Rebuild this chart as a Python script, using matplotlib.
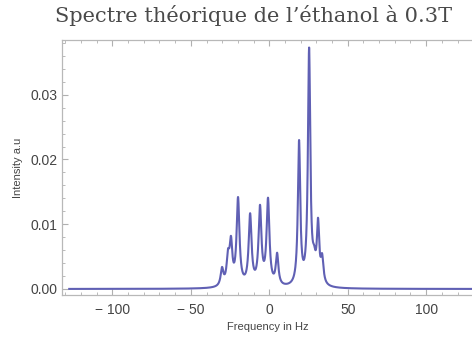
"""Theoretical 1H NMR spectrum of ethanol at 0.3 T"""

import numpy as np
import matplotlib.pyplot as plt
from matplotlib.ticker import MultipleLocator, FuncFormatter

# line positions (Hz) and peak intensities (a.u.) of the resolved multiplet lines
line_centers = [-30.1, -26.3, -24.4, -19.9, -12.2, -5.9, -0.8, 5.0,
                19.0, 25.4, 28.6, 31.1, 33.7]
line_heights = [0.0034, 0.0062, 0.0082, 0.0142, 0.0117, 0.0130, 0.0141, 0.0056,
                0.0230, 0.0373, 0.0068, 0.0110, 0.0055]
line_hwhm = [1.05, 1.05, 1.05, 1.1, 1.1, 1.1, 1.1, 1.0,
             0.9, 0.9, 1.2, 0.9, 1.0]

freq_min, freq_max = -127.5, 131.0
x_ticks = [-100, -50, 0, 50, 100]
y_ticks = [0.00, 0.01, 0.02, 0.03]

title = "Spectre théorique de l’éthanol à 0.3T"
x_label = "Frequency in Hz"
y_label = "Intensity a.u"


def lorentz(x, c, g):
    return 1.0 / (1.0 + ((x - c) / g) ** 2)


def line_amplitudes(centers, heights, widths):
    """Amplitudes so that the summed spectrum hits the given heights at the centers."""
    c = np.array(centers)
    m = np.array([[lorentz(ci, cj, gj) for cj, gj in zip(centers, widths)] for ci in c])
    return np.linalg.solve(m, np.array(heights))


def spectrum(x, centers, heights, widths):
    amps = line_amplitudes(centers, heights, widths)
    y = np.zeros_like(x)
    for a, c, g in zip(amps, centers, widths):
        y += a * lorentz(x, c, g)
    return y


def fmt_x(v, pos):
    if v < 0:
        return "\u2212 %d" % abs(v)
    return "%d" % v


def plot_spectrum():
    freq = np.linspace(freq_min, freq_max, 6000)
    inten = spectrum(freq, line_centers, line_heights, line_hwhm)

    plt.rcParams['font.family'] = ['Liberation Sans', 'DejaVu Sans']
    fig = plt.figure(figsize=(4.72, 3.41), dpi=100)
    ax = fig.add_axes([61.7 / 472, 46 / 341, 411.5 / 472, 254.7 / 341])

    ax.plot(freq, inten, color='#6060b4', lw=1.5)

    ax.set_xlim(-132.3, 130.0)
    ax.set_ylim(-0.00093, 0.0384)

    ax.set_xticks(x_ticks)
    ax.xaxis.set_major_formatter(FuncFormatter(fmt_x))
    ax.xaxis.set_minor_locator(MultipleLocator(10))
    ax.set_yticks(y_ticks)
    ax.set_yticklabels(["%.2f" % v for v in y_ticks])
    ax.yaxis.set_minor_locator(MultipleLocator(0.002))

    ax.tick_params(which='both', direction='in', top=True, right=False,
                   color='#b0b0b0', labelcolor='#444444', labelsize=10)
    ax.tick_params(which='major', length=4, width=0.8)
    ax.tick_params(which='minor', length=2, width=0.6)
    ax.tick_params(axis='x', pad=6)
    ax.tick_params(axis='y', pad=3)
    for s in ax.spines.values():
        s.set_color('#b8b8b8')
        s.set_linewidth(0.9)

    ax.set_xlabel(x_label, fontsize=8, color='#444444', labelpad=3)
    ax.set_ylabel(y_label, fontsize=8, color='#444444', labelpad=5)

    fig.text(0.538, 0.955, title, ha='center', va='center',
             fontsize=15, family='DejaVu Serif', color='#4a4a4a')

    fig.savefig("out.png", dpi=100)


if __name__ == "__main__":
    plot_spectrum()
